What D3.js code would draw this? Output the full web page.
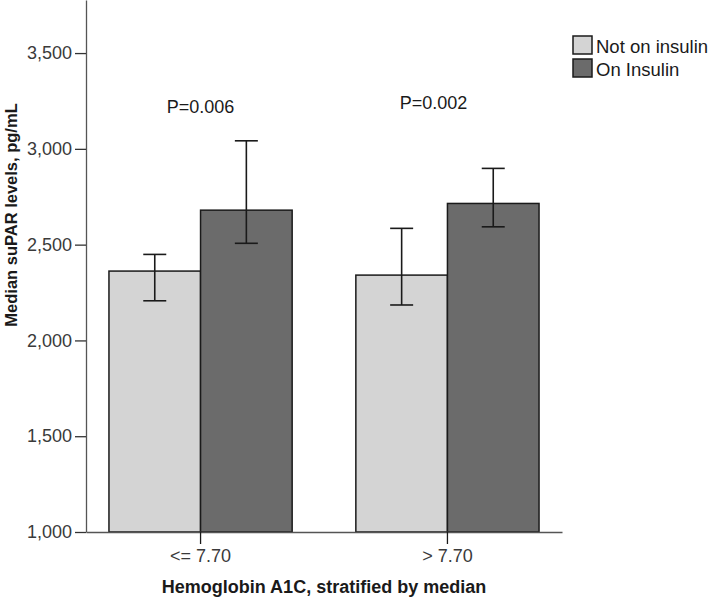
<!DOCTYPE html>
<html>
<head>
<meta charset="utf-8">
<script src="https://cdn.jsdelivr.net/npm/d3@7"></script>
<style>
  body { margin: 0; background: #fff; }
  text { font-family: Arial, "Liberation Sans", sans-serif; }
</style>
</head>
<body>
<div id="chart"></div>
<script>
// data
const groups = ["<= 7.70", "> 7.70"];
const series = ["Not on insulin", "On Insulin"];
const medians = [[2362, 2680], [2341, 2715]];
const lowerCI = [[2207, 2507], [2185, 2593]];
const upperCI = [[2449, 3042], [2585, 2898]];
const pLabels = ["P=0.006", "P=0.002"];
const yTicks = [1000, 1500, 2000, 2500, 3000, 3500];
const colors = ["#d4d4d4", "#6b6b6b"];

const width = 709,
  height = 598;
const marginLeft = 86,
  plotRight = 562,
  marginTop = 0,
  axisY = 532;
const fontFam = "Arial, 'Liberation Sans', sans-serif";

const svg_holder = d3
  .create("svg")
  .attr("width", width)
  .attr("height", height);

const xScale = d3
  .scaleBand()
  .domain(groups)
  .range([marginLeft, plotRight])
  .paddingInner(0.258)
  .paddingOuter(0.093);
const xSub = d3
  .scaleBand()
  .domain(series)
  .range([0, xScale.bandwidth()]);
const yScale = d3.scaleLinear().domain([1000, 3777]).range([axisY, marginTop]);
const color = d3.scaleOrdinal(series, colors);

// bars
const rows = groups.flatMap((g, gi) =>
  series.map((s, si) => ({
    g,
    s,
    v: medians[gi][si],
    lo: lowerCI[gi][si],
    hi: upperCI[gi][si],
  }))
);

const bars = svg_holder.append("g");
bars
  .selectAll("rect")
  .data(rows)
  .join("rect")
  .attr("x", (d) => xScale(d.g) + xSub(d.s))
  .attr("y", (d) => yScale(d.v))
  .attr("width", xSub.bandwidth())
  .attr("height", (d) => yScale(1000) - yScale(d.v))
  .attr("fill", (d) => color(d.s))
  .attr("stroke", "#1a1a1a")
  .attr("stroke-width", 1.5);

// error bars
const capHalf = 11.5;
const err = svg_holder
  .append("g")
  .attr("stroke", "#1a1a1a")
  .attr("stroke-width", 1.6)
  .selectAll("g")
  .data(rows)
  .join("g")
  .attr("transform", (d) => `translate(${xScale(d.g) + xSub(d.s) + xSub.bandwidth() / 2},0)`);
err
  .append("line")
  .attr("y1", (d) => yScale(d.lo))
  .attr("y2", (d) => yScale(d.hi));
err
  .append("line")
  .attr("x1", -capHalf)
  .attr("x2", capHalf)
  .attr("y1", (d) => yScale(d.hi))
  .attr("y2", (d) => yScale(d.hi));
err
  .append("line")
  .attr("x1", -capHalf)
  .attr("x2", capHalf)
  .attr("y1", (d) => yScale(d.lo))
  .attr("y2", (d) => yScale(d.lo));

// y axis
svg_holder
  .append("g")
  .attr("transform", `translate(${marginLeft},0)`)
  .call(d3.axisLeft(yScale).tickValues(yTicks).tickFormat(d3.format(",")).tickSize(11).tickSizeOuter(0).tickPadding(3))
  .call((g) => g.select(".domain").attr("stroke", "#555").attr("stroke-width", 1.3))
  .call((g) => g.selectAll(".tick line").attr("stroke", "#333").attr("stroke-width", 1.3))
  .call((g) =>
    g.selectAll(".tick text").attr("font-size", 18).attr("fill", "#3a3a3a").attr("font-family", fontFam)
  );

// x axis
svg_holder
  .append("g")
  .attr("transform", `translate(0,${axisY})`)
  .call(d3.axisBottom(xScale).tickSize(12).tickSizeOuter(0).tickPadding(5))
  .call((g) => g.select(".domain").attr("stroke", "#555").attr("stroke-width", 1.3))
  .call((g) => g.selectAll(".tick line").attr("stroke", "#1a1a1a").attr("stroke-width", 1.3))
  .call((g) =>
    g.selectAll(".tick text").attr("font-size", 18).attr("fill", "#3a3a3a").attr("font-family", fontFam)
  );

// p values
const pShift = [0, -14];
const pY = [113, 109];
svg_holder
  .append("g")
  .selectAll("text")
  .data(groups)
  .join("text")
  .attr("x", (d, i) => xScale(d) + xScale.bandwidth() / 2 + pShift[i])
  .attr("y", (d, i) => pY[i])
  .attr("text-anchor", "middle")
  .attr("font-size", 18)
  .attr("fill", "#1a1a1a")
  .text((d, i) => pLabels[i]);

// axis titles
svg_holder
  .append("text")
  .attr("transform", `translate(17,215) rotate(-90)`)
  .attr("text-anchor", "middle")
  .attr("font-size", 16.5)
  .attr("font-weight", "bold")
  .attr("fill", "#1a1a1a")
  .text("Median suPAR levels, pg/mL");

svg_holder
  .append("text")
  .attr("x", 324)
  .attr("y", 593)
  .attr("text-anchor", "middle")
  .attr("font-size", 18)
  .attr("font-weight", "bold")
  .attr("fill", "#1a1a1a")
  .text("Hemoglobin A1C, stratified by median");

// legend
const legend = svg_holder
  .append("g")
  .selectAll("g")
  .data(series)
  .join("g")
  .attr("transform", (d, i) => `translate(573,${36 + i * 23})`);
legend
  .append("rect")
  .attr("width", 19)
  .attr("height", 18)
  .attr("fill", (d) => color(d))
  .attr("stroke", "#1a1a1a")
  .attr("stroke-width", 1.5);
legend
  .append("text")
  .attr("x", 23)
  .attr("y", 17)
  .attr("font-size", 18.5)
  .attr("fill", "#1a1a1a")
  .text((d) => d);

d3.select("#chart").node().appendChild(svg_holder.node());
</script>
</body>
</html>
